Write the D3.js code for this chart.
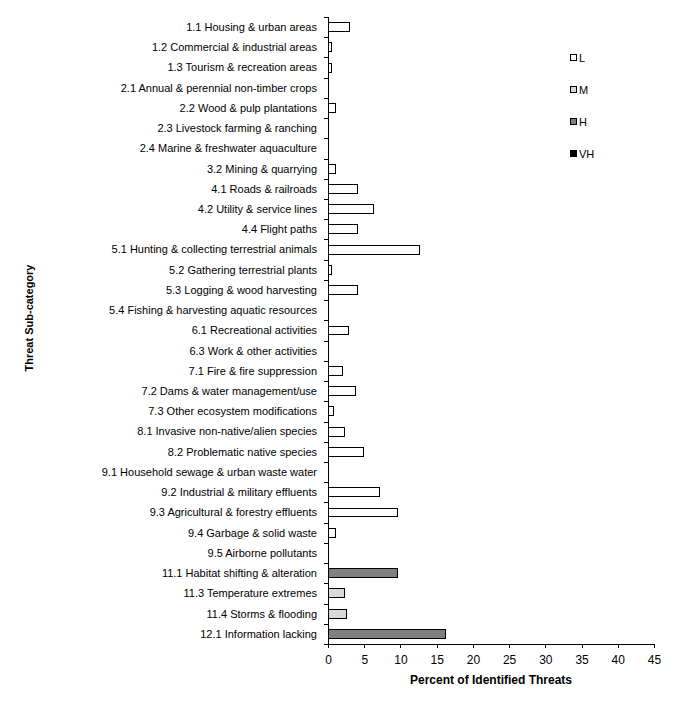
<!DOCTYPE html>
<html>
<head>
<meta charset="UTF-8">
<title>Threat Sub-category</title>
<style>
    body { margin: 0; background: #fff; }
    text { font-family: "Liberation Sans", Arial, sans-serif; fill: #000; }
    .lbl { font-size: 11px; }
    .tick-lbl { font-size: 12px; }
    .axis-title { font-size: 12px; font-weight: bold; }
</style>
<script src="https://d3js.org/d3.v7.min.js"></script>
</head>
<body>
<div id="chart"></div>
<script>
const categories = [
    "1.1 Housing & urban areas",
    "1.2 Commercial & industrial areas",
    "1.3 Tourism & recreation areas",
    "2.1 Annual & perennial non-timber crops",
    "2.2 Wood & pulp plantations",
    "2.3 Livestock farming & ranching",
    "2.4 Marine & freshwater aquaculture",
    "3.2 Mining & quarrying",
    "4.1 Roads & railroads",
    "4.2 Utility & service lines",
    "4.4 Flight paths",
    "5.1 Hunting & collecting terrestrial animals",
    "5.2 Gathering terrestrial plants",
    "5.3 Logging & wood harvesting",
    "5.4 Fishing & harvesting aquatic resources",
    "6.1 Recreational activities",
    "6.3 Work & other activities",
    "7.1 Fire & fire suppression",
    "7.2 Dams & water management/use",
    "7.3 Other ecosystem modifications",
    "8.1 Invasive non-native/alien species",
    "8.2 Problematic native species",
    "9.1 Household sewage & urban waste water",
    "9.2 Industrial & military effluents",
    "9.3 Agricultural & forestry effluents",
    "9.4 Garbage & solid waste",
    "9.5 Airborne pollutants",
    "11.1 Habitat shifting & alteration",
    "11.3 Temperature  extremes",
    "11.4 Storms & flooding",
    "12.1 Information lacking"
];
const seriesNames = ["L", "M", "H", "VH"];
const valuesL  = [3.0, 0.5, 0.5, 0, 1.0, 0, 0, 1.0, 4.1, 6.3, 4.1, 12.6, 0.5, 4.1, 0, 2.8, 0, 2.0, 3.8, 0.7, 2.3, 4.9, 0, 7.1, 9.6, 1.0, 0, 0, 0, 0, 0];
const valuesM  = [0, 0, 0, 0, 0, 0, 0, 0, 0, 0, 0, 0, 0, 0, 0, 0, 0, 0, 0, 0, 0, 0, 0, 0, 0, 0, 0, 0, 2.3, 2.6, 0];
const valuesH  = [0, 0, 0, 0, 0, 0, 0, 0, 0, 0, 0, 0, 0, 0, 0, 0, 0, 0, 0, 0, 0, 0, 0, 0, 0, 0, 0, 9.6, 0, 0, 16.2];
const valuesVH = [0, 0, 0, 0, 0, 0, 0, 0, 0, 0, 0, 0, 0, 0, 0, 0, 0, 0, 0, 0, 0, 0, 0, 0, 0, 0, 0, 0, 0, 0, 0];
const xTicks = [0, 5, 10, 15, 20, 25, 30, 35, 40, 45];
const colors = ["#ffffff", "#d9d9d9", "#808080", "#000000"];

const rows = categories.map((c, i) => ({
    cat: c, L: valuesL[i], M: valuesM[i], H: valuesH[i], VH: valuesVH[i]
}));

const W = 689, H = 703;
const margin = {top: 17, left: 328, right: 35, bottom: 59};
const width = W - margin.left - margin.right;
const height = H - margin.top - margin.bottom;

const svg = d3.select("#chart").append("svg")
    .attr("width", W).attr("height", H);
const g = svg.append("g").attr("transform", `translate(${margin.left},${margin.top})`);

const x = d3.scaleLinear().domain([0, 45]).range([0, width]);
const y = d3.scaleBand().domain(categories).range([0, height])
    .paddingInner(0.56).paddingOuter(0.28);
const yEdge = d3.scaleLinear().domain([0, categories.length]).range([0, height]);

// stacked bars
const stack = d3.stack().keys(seriesNames)(rows);
const color = d3.scaleOrdinal().domain(seriesNames).range(colors);
g.selectAll("g.series")
    .data(stack)
    .join("g")
    .attr("class", "series")
    .attr("fill", d => color(d.key))
    .selectAll("rect")
    .data(d => d.filter(s => s[1] - s[0] > 0))
    .join("rect")
    .attr("x", d => x(d[0]))
    .attr("y", d => y(d.data.cat))
    .attr("width", d => x(d[1]) - x(d[0]))
    .attr("height", y.bandwidth())
    .attr("stroke", "#000")
    .attr("stroke-width", 1)
    .attr("shape-rendering", "crispEdges");

// y axis: labels
const yLab = g.append("g")
    .call(d3.axisLeft(y).tickSize(0).tickPadding(11))
    .attr("font-size", null).attr("font-family", null);
yLab.select(".domain").remove();
yLab.selectAll("text").attr("class", "lbl").attr("dy", "0.35em");

// y axis: line + boundary ticks
const yAx = g.append("g")
    .call(d3.axisLeft(yEdge).tickValues(d3.range(categories.length + 1)).tickSize(4).tickFormat(""))
    .attr("shape-rendering", "crispEdges");
yAx.selectAll("path, line").attr("stroke", "#000");

// x axis
const xAx = g.append("g")
    .attr("transform", `translate(0,${height})`)
    .call(d3.axisBottom(x).tickValues(xTicks).tickSize(4).tickPadding(7).tickSizeOuter(4))
    .attr("shape-rendering", "crispEdges")
    .attr("font-size", null).attr("font-family", null);
xAx.selectAll("path, line").attr("stroke", "#000");
xAx.selectAll("text").attr("class", "tick-lbl");

// axis titles
svg.append("text")
    .attr("class", "axis-title")
    .attr("x", margin.left + width / 2)
    .attr("y", 684)
    .attr("text-anchor", "middle")
    .text("Percent of Identified Threats");
svg.append("text")
    .attr("class", "axis-title")
    .style("font-size", "11px")
    .attr("transform", `translate(33,318) rotate(-90)`)
    .attr("text-anchor", "middle")
    .text("Threat Sub-category");

// legend
const legend = svg.append("g").attr("transform", "translate(570,54)");
const li = legend.selectAll("g").data(seriesNames).join("g")
    .attr("transform", (d, i) => `translate(0,${i * 32})`);
li.append("rect")
    .attr("width", 6).attr("height", 6)
    .attr("fill", d => color(d))
    .attr("stroke", "#000")
    .attr("shape-rendering", "crispEdges");
li.append("text")
    .attr("class", "lbl")
    .attr("x", 9).attr("y", 8)
    .text(d => d);
</script>
</body>
</html>
